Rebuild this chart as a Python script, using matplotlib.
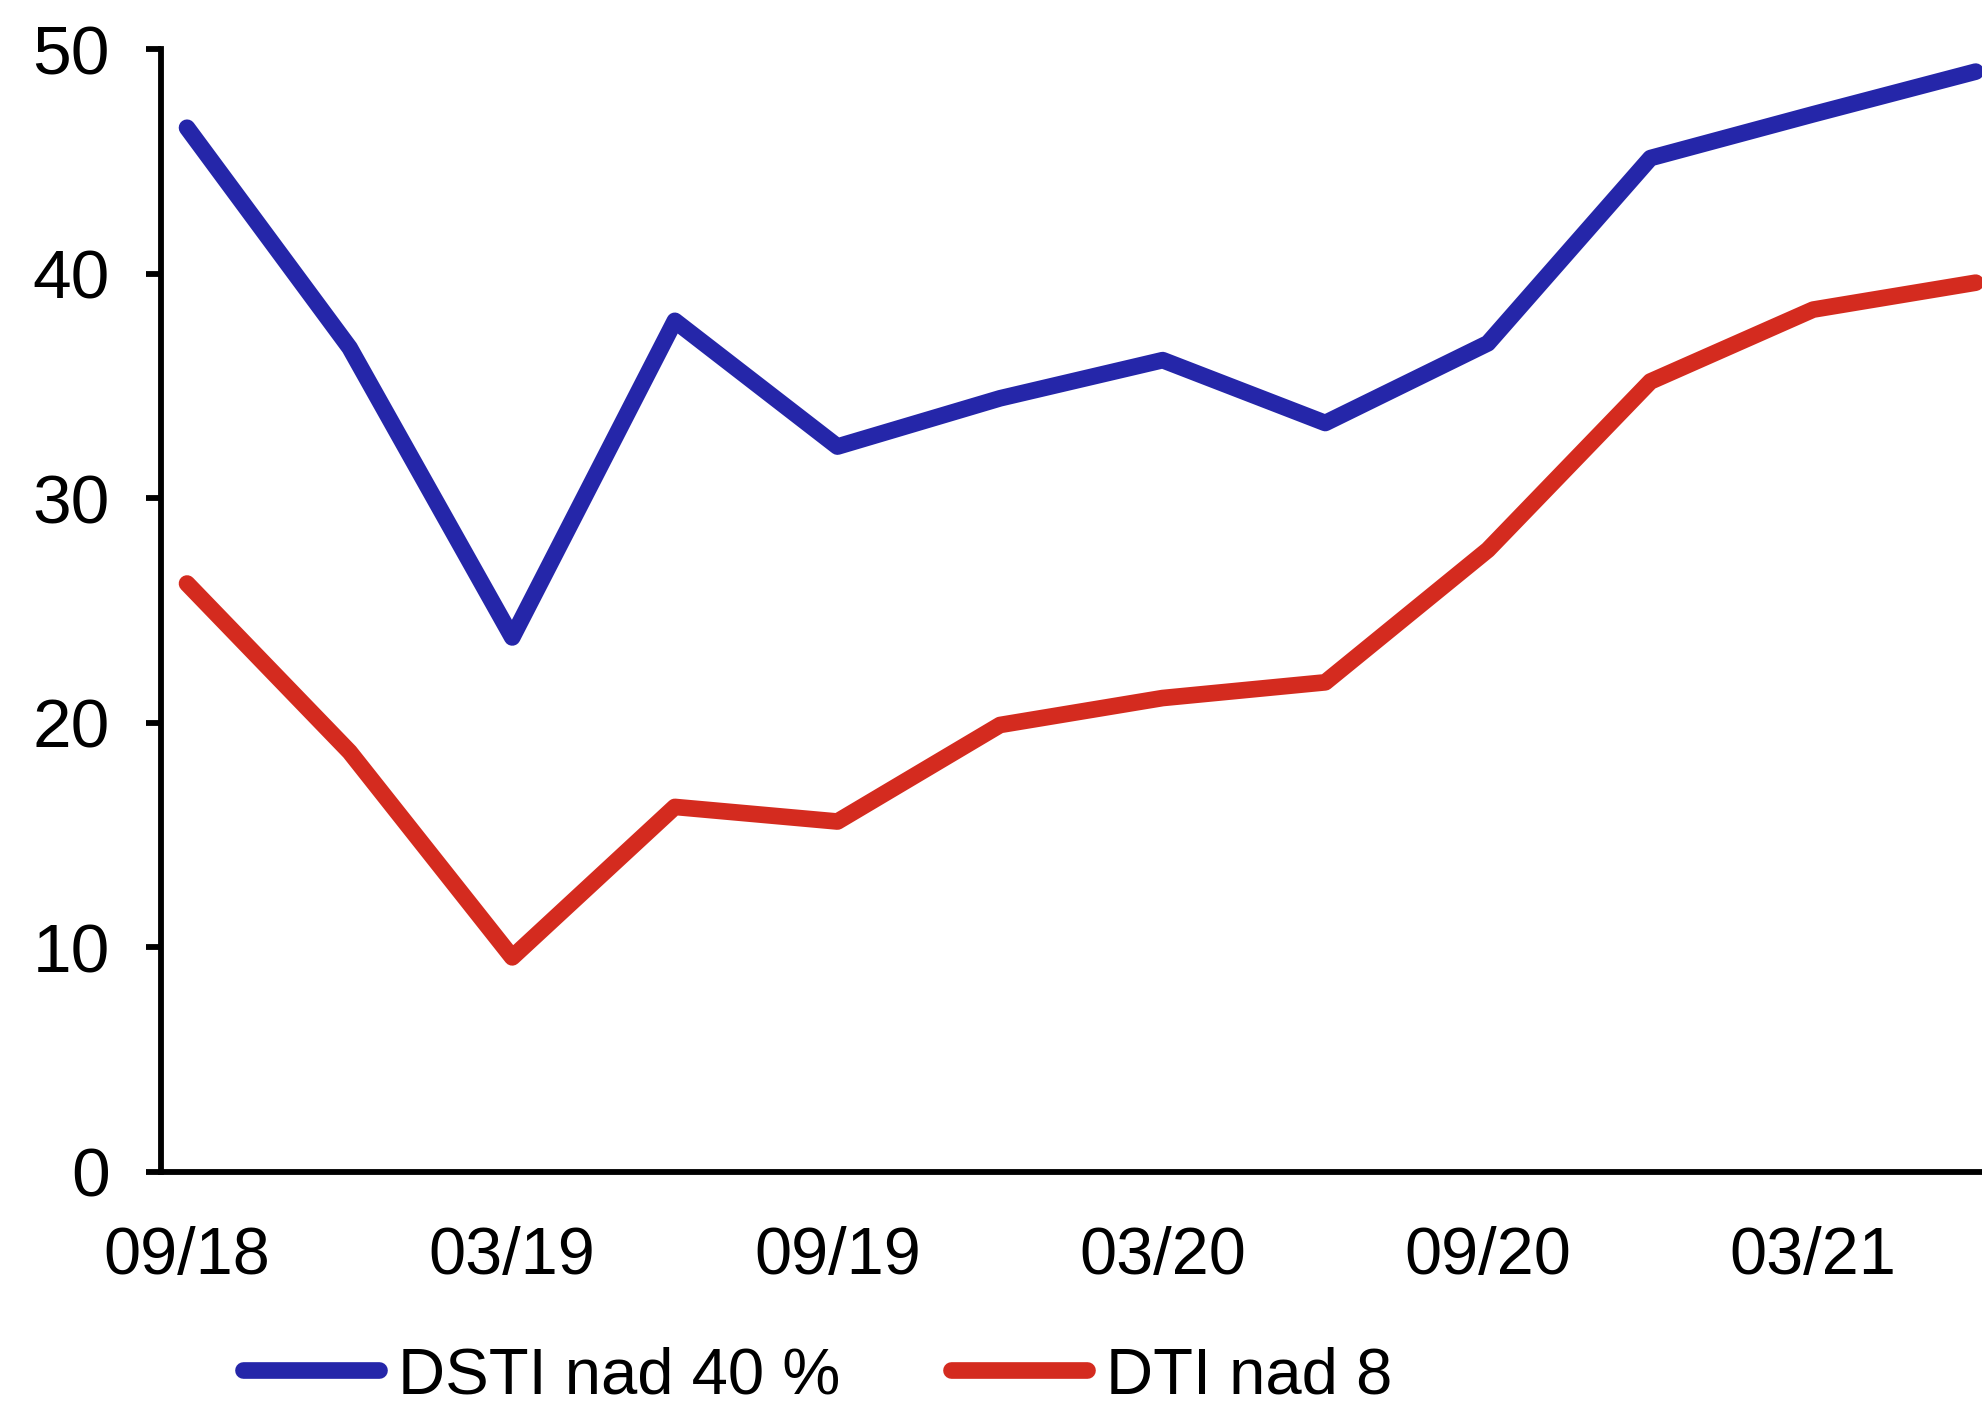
import numpy as np
import matplotlib
matplotlib.use("Agg")
from matplotlib import pyplot as plt

# Quarterly shares of new loans (%)
quarters = ['09/18', '12/18', '03/19', '06/19', '09/19', '12/19',
            '03/20', '06/20', '09/20', '12/20', '03/21', '06/21']
dsti_over_40 = [46.5, 36.7, 23.8, 37.9, 32.3, 34.45, 36.15, 33.35, 36.9, 45.15, 47.1, 49.0]
dti_over_8 = [26.2, 18.7, 9.55, 16.25, 15.6, 19.9, 21.1, 21.8, 27.7, 35.2, 38.4, 39.6]
series_names = ['DSTI nad 40 %', 'DTI nad 8']

plt.rcParams['font.family'] = ['Liberation Sans', 'DejaVu Sans']
fs = 47

fig = plt.figure(figsize=(19.83, 14.05), dpi=100)
ax = fig.add_axes([0.0812, 0.166, 0.9188, 0.799])

x = np.arange(len(quarters))
ax.plot(x, dsti_over_40, color='#2526a9', lw=12, solid_capstyle='round',
        solid_joinstyle='round', label=series_names[0])
ax.plot(x, dti_over_8, color='#d42b1f', lw=12, solid_capstyle='round',
        solid_joinstyle='round', label=series_names[1])

ax.set_xlim(-0.16, 11.045)
ax.set_ylim(0, 50)
ax.set_yticks(range(0, 51, 10))
ax.set_xticks(x[::2])
ax.set_xticklabels(quarters[::2])

for s in ['top', 'right']:
    ax.spines[s].set_visible(False)
for s in ['left', 'bottom']:
    ax.spines[s].set_linewidth(4.2)

ax.tick_params(axis='y', length=10.8, width=4.2, pad=26, labelsize=50)
ax.tick_params(axis='x', length=0, pad=39, labelsize=48)

fig.legend(loc='center left', bbox_to_anchor=(243 / 1983, 1 - 1376 / 1405),
           ncol=2, frameon=False, fontsize=fs, handlelength=2.09,
           handletextpad=0.28, columnspacing=1.7, borderpad=0, borderaxespad=0)

fig.savefig('out.png', dpi=100)
